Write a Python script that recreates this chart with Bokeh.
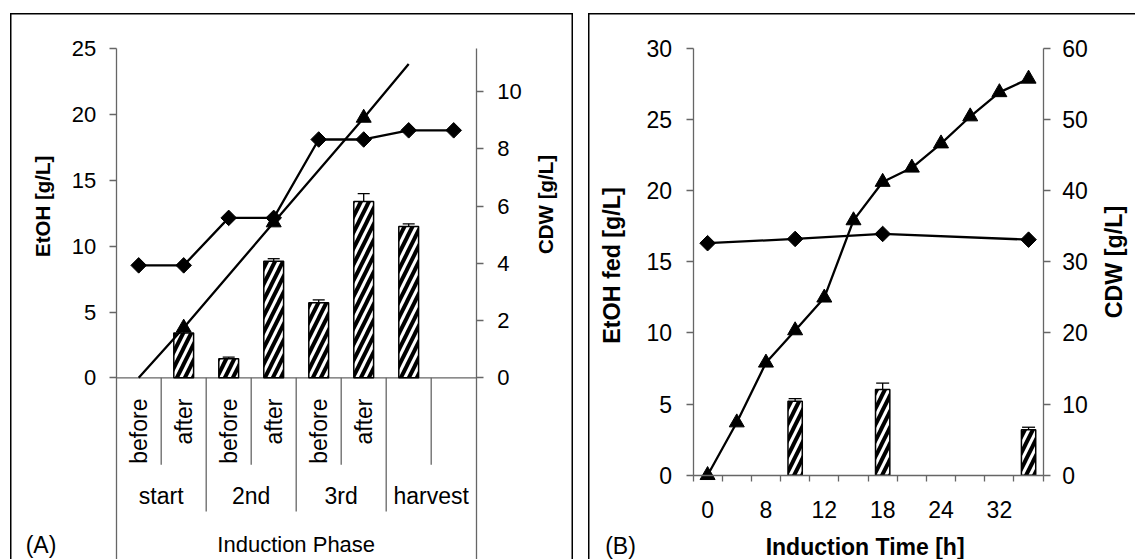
import numpy as np
from bokeh.plotting import figure
from bokeh.models import (Range1d, LinearAxis, FixedTicker, ColumnDataSource,
                          Spacer, Whisker, TeeHead)
from bokeh.layouts import row, column
from bokeh.embed import file_html
from bokeh.resources import INLINE
from bokeh.core.properties import value

# ---------------- data: panel A (induction phases) ----------------
a_sub_labels = ["before", "after", "before", "after", "before", "after", "", ""]
a_group_labels = ["start", "2nd", "3rd", "harvest"]
a_bar_cat = [1, 2, 3, 4, 5, 6]
a_bar_etoh = [3.4, 1.45, 8.85, 5.7, 13.4, 11.5]
a_bar_err = [0.2, 0.12, 0.2, 0.22, 0.6, 0.2]
a_cdw_cat = [0, 1, 2, 3, 4, 5, 6, 7]
a_cdw = [3.93, 3.93, 5.59, 5.59, 8.33, 8.33, 8.65, 8.65]
a_fed_line_cat = [0, 1, 3, 5, 6]
a_fed_line = [0.0, 3.8, 11.8, 19.75, 23.85]
a_fed_mark_cat = [1, 3, 5]
a_fed_mark = [3.8, 11.8, 19.75]
a_ticks_left = [0, 5, 10, 15, 20, 25]
a_ticks_right = [0, 2, 4, 6, 8, 10]

# ---------------- data: panel B (induction time) ----------------
b_time_labels = ["0", "", "8", "", "12", "", "18", "", "24", "", "32", ""]
b_fed = [0.0, 3.7, 7.9, 10.17, 12.47, 17.9, 20.6, 21.6, 23.3, 25.2, 26.9, 27.85]
b_cdw_cat = [0, 3, 6, 11]
b_cdw = [32.6, 33.2, 33.9, 33.1]
b_bar_cat = [3, 6, 11]
b_bar_etoh = [5.2, 6.02, 3.19]
b_bar_err = [0.18, 0.45, 0.18]
b_ticks_left = [0, 5, 10, 15, 20, 25, 30]
b_ticks_right = [0, 10, 20, 30, 40, 50, 60]

FONT = "Liberation Sans"
AX = "#666666"


def style_axis(ax, standoff, size):
    ax.axis_line_color = AX
    ax.axis_line_width = 1.3
    ax.major_tick_line_color = AX
    ax.major_tick_line_width = 1.3
    ax.major_tick_out = 7
    ax.major_tick_in = 0
    ax.minor_tick_line_color = None
    ax.major_label_text_font = FONT
    ax.major_label_text_font_size = size
    ax.major_label_text_color = "black"
    ax.major_label_standoff = standoff


def txt(p, x, y, text, size, angle=0.0, align="center", bold=False):
    p.text(x=x, y=y, text=text, angle=angle, text_align=align, text_baseline="middle",
           text_font=value(FONT), text_font_size=size,
           text_font_style="bold" if bold else "normal", text_color="black")


def base_fig(x_rng, y_rng, w, h):
    p = figure(width=w, height=h, x_range=x_rng, y_range=y_rng, output_backend="svg",
               toolbar_location=None, x_axis_location=None, y_axis_location=None,
               min_border_left=0, min_border_right=0, min_border_top=0,
               min_border_bottom=0)
    p.outline_line_color = None
    p.background_fill_color = None
    p.border_fill_color = None
    p.xgrid.visible = False
    p.ygrid.visible = False
    return p


BAR_STYLE = dict(fill_color="white", line_color="black", line_width=1.5, hatch_pattern="/",
                 hatch_color="black", hatch_weight=4, hatch_scale=16)

# ================= Panel A (layout geometry in page pixels) =================
A_LEFT, A_TOP, A_W, A_H = 10, 13, 563, 546
A_X0, A_CW = 115.7, 45.0          # left axis x, px per category
A_Y0, A_PPU = 377.3, 13.16        # zero line y, px per g/L (left axis)
A_YMAX, A_Y2MAX = 25, 11.5
A_K = A_Y2MAX / A_YMAX
a_n = len(a_sub_labels)


def ax_(px):
    return (px - A_X0) / A_CW - 0.5


def ay_(py):
    return (A_Y0 - py) / A_PPU


a_ylo, a_yhi = ay_(A_TOP + A_H), ay_(A_TOP)
pA = base_fig(Range1d(ax_(A_LEFT), ax_(A_LEFT + A_W)), Range1d(a_ylo, a_yhi), A_W, A_H)
pA.extra_y_ranges = {"cdw": Range1d(a_ylo * A_K, a_yhi * A_K)}
pA.styles = {"box-shadow": "inset 1.5px 1.5px 0 0 #000, inset -1.5px 0 0 0 #000"}

a_left = LinearAxis(fixed_location=-0.5, bounds=(a_ylo, A_YMAX),
                    ticker=FixedTicker(ticks=a_ticks_left))
style_axis(a_left, 13, "22px")
pA.add_layout(a_left, "left")
a_right = LinearAxis(y_range_name="cdw", fixed_location=a_n - 0.5,
                     bounds=(a_ylo * A_K, A_Y2MAX), ticker=FixedTicker(ticks=a_ticks_right))
style_axis(a_right, 14, "22px")
pA.add_layout(a_right, "right")

# zero line and category separators
pA.segment(x0=-0.5, y0=0, x1=a_n - 0.5, y1=0, line_color=AX, line_width=1.3)
sub_sep = [i + 0.5 for i in range(0, a_n - 1, 2)]
grp_sep = [i + 0.5 for i in range(1, a_n - 1, 2)]
pA.segment(x0=sub_sep, y0=[0] * len(sub_sep), x1=sub_sep, y1=[ay_(464.3)] * len(sub_sep),
           line_color=AX, line_width=1.3)
pA.segment(x0=grp_sep, y0=[0] * len(grp_sep), x1=grp_sep, y1=[ay_(511)] * len(grp_sep),
           line_color=AX, line_width=1.3)

# bars with error whiskers
srcA = ColumnDataSource(dict(x=a_bar_cat, top=a_bar_etoh,
                             upper=[v + e for v, e in zip(a_bar_etoh, a_bar_err)]))
pA.vbar(x="x", top="top", bottom=0, width=0.44, source=srcA, **BAR_STYLE)
pA.add_layout(Whisker(source=srcA, base="x", lower="top", upper="upper",
                      line_color="black", line_width=1.3, lower_head=None,
                      upper_head=TeeHead(size=12, line_color="black", line_width=1.3),
                      level="overlay"))

# lines and markers
pA.line(a_fed_line_cat, a_fed_line, line_color="black", line_width=2.3)
pA.scatter(a_fed_mark_cat, a_fed_mark, marker="triangle", size=15, color="black")
pA.line(a_cdw_cat, a_cdw, y_range_name="cdw", line_color="black", line_width=2.3)
pA.scatter(a_cdw_cat, a_cdw, y_range_name="cdw", marker="square", angle=np.pi / 4,
           size=11, color="black")

# category axis texts
txt(pA, list(range(a_n)), [ay_(398)] * a_n, a_sub_labels, "23px", angle=np.pi / 2,
    align="right")
txt(pA, [2 * i + 0.5 for i in range(len(a_group_labels))],
    [ay_(495.5)] * len(a_group_labels), a_group_labels, "23px")
txt(pA, [(a_n - 1) / 2], [ay_(544)], ["Induction Phase"], "22px")
txt(pA, [ax_(41.7)], [ay_(205.8)], ["EtOH [g/L]"], "20.5px", angle=np.pi / 2, bold=True)
txt(pA, [ax_(544.6)], [ay_(204)], ["CDW [g/L]"], "20.5px", angle=np.pi / 2, bold=True)
txt(pA, [ax_(40.5)], [ay_(544)], ["(A)"], "23px")

# ================= Panel B (layout geometry in page pixels) =================
B_LEFT, B_TOP, B_W, B_H = 588, 13, 547, 546
B_X0, B_CW = 692.5, 29.18         # left axis x, px per time point
B_Y0, B_PPU = 474.7, 14.233       # zero line y, px per g/L (left axis)
B_YMAX, B_Y2MAX = 30, 60
B_K = B_Y2MAX / B_YMAX
b_n = len(b_time_labels)


def bx_(px):
    return (px - B_X0) / B_CW - 0.5


def by_(py):
    return (B_Y0 - py) / B_PPU


b_ylo, b_yhi = by_(B_TOP + B_H), by_(B_TOP)
pB = base_fig(Range1d(bx_(B_LEFT), bx_(B_LEFT + B_W)), Range1d(b_ylo, b_yhi), B_W, B_H)
pB.extra_y_ranges = {"cdw": Range1d(b_ylo * B_K, b_yhi * B_K)}
pB.styles = {"box-shadow": "inset 1.5px 1.5px 0 0 #000"}

label_ticks = [i for i, t in enumerate(b_time_labels) if t]
b_bottom = LinearAxis(fixed_location=0, bounds=(-0.5, b_n - 0.5),
                      ticker=FixedTicker(ticks=label_ticks,
                                         minor_ticks=[i - 0.5 for i in range(b_n + 1)]))
style_axis(b_bottom, 20, "23px")
b_bottom.major_label_overrides = {i: b_time_labels[i] for i in label_ticks}
b_bottom.major_tick_out = 0
b_bottom.major_tick_line_color = None
b_bottom.minor_tick_line_color = AX
b_bottom.minor_tick_line_width = 1.3
b_bottom.minor_tick_out = 6
b_bottom.minor_tick_in = 0
pB.add_layout(b_bottom, "below")

b_left = LinearAxis(fixed_location=-0.5, bounds=(0, B_YMAX),
                    ticker=FixedTicker(ticks=b_ticks_left))
style_axis(b_left, 14, "23px")
pB.add_layout(b_left, "left")
b_right = LinearAxis(y_range_name="cdw", fixed_location=b_n - 0.5, bounds=(0, B_Y2MAX),
                     ticker=FixedTicker(ticks=b_ticks_right))
style_axis(b_right, 12, "23px")
pB.add_layout(b_right, "right")

srcB = ColumnDataSource(dict(x=b_bar_cat, top=b_bar_etoh,
                             upper=[v + e for v, e in zip(b_bar_etoh, b_bar_err)]))
pB.vbar(x="x", top="top", bottom=0, width=0.49, source=srcB, **BAR_STYLE)
pB.add_layout(Whisker(source=srcB, base="x", lower="top", upper="upper",
                      line_color="black", line_width=1.3, lower_head=None,
                      upper_head=TeeHead(size=13, line_color="black", line_width=1.3),
                      level="overlay"))

pB.line(b_cdw_cat, b_cdw, y_range_name="cdw", line_color="black", line_width=2.3)
pB.scatter(b_cdw_cat, b_cdw, y_range_name="cdw", marker="square", angle=np.pi / 4,
           size=11, color="black")
pB.line(list(range(b_n)), b_fed, line_color="black", line_width=2.3)
pB.scatter(list(range(b_n)), b_fed, marker="triangle", size=15, color="black")

txt(pB, [bx_(611)], [by_(265)], ["EtOH fed [g/L]"], "23.3px", angle=np.pi / 2, bold=True)
txt(pB, [bx_(1113)], [by_(261.5)], ["CDW [g/L]"], "23.3px", angle=np.pi / 2, bold=True)
txt(pB, [bx_(864.6)], [by_(546)], ["Induction Time [h]"], "23px", bold=True)
txt(pB, [bx_(620)], [by_(545)], ["(B)"], "23px")

layout = column(Spacer(width=10, height=A_TOP),
                row(Spacer(width=A_LEFT, height=10), pA,
                    Spacer(width=B_LEFT - A_LEFT - A_W, height=10), pB))

open("out.html", "w").write(file_html(layout, INLINE))
